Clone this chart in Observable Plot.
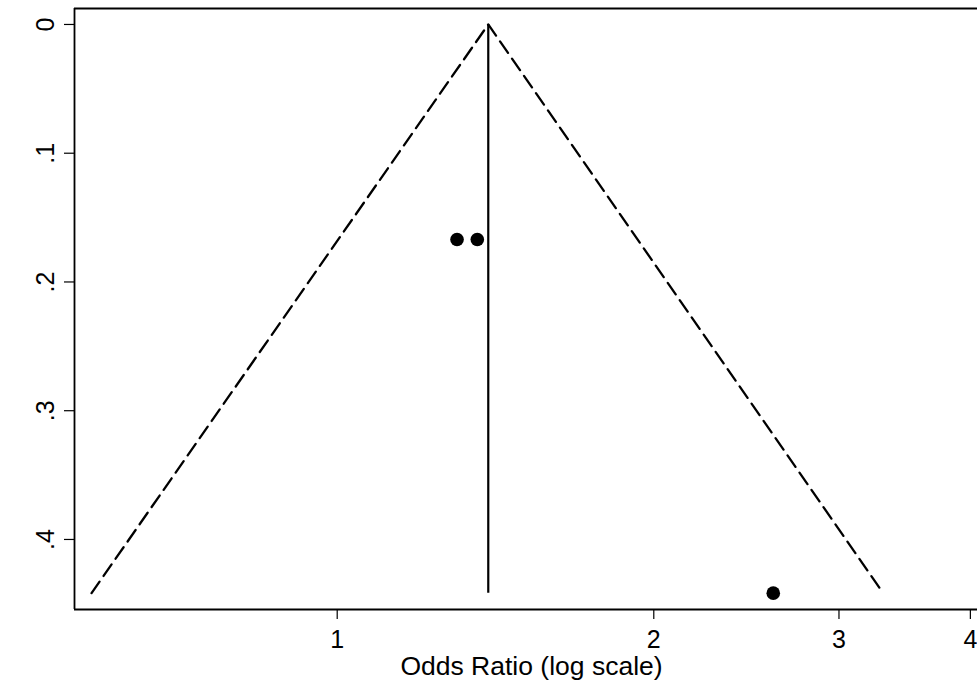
<!DOCTYPE html>
<html>
<head>
<meta charset="utf-8">
<script src="https://cdn.jsdelivr.net/npm/d3@7"></script>
<script src="https://cdn.jsdelivr.net/npm/@observablehq/plot@0.6"></script>
<style>
  html, body { margin: 0; padding: 0; background: #fff; overflow: hidden; }
  #chart { width: 977px; height: 684px; overflow: hidden; }
  #chart svg { display: block; max-width: none !important; }
</style>
</head>
<body>
<div id="chart"></div>
<script>
// Study estimates (odds ratio) and their standard errors of log OR
const studyOR = [1.30, 1.359, 2.598];
const studySE = [0.167, 0.167, 0.4417];
// Pooled estimate and funnel (pseudo 95% limits) vertices
const pooledOR = 1.392;
const pooledSE = [0, 0.4417];
const funnelOR = [0.584, 1.392, 3.305];
const funnelSE = [0.4417, 0, 0.4417];
// Axis ticks
const xTicks = [1, 2, 3, 4];
const yTicks = [0, 0.1, 0.2, 0.3, 0.4];
const yTickLabels = ["0", ".1", ".2", ".3", ".4"];
const xTitle = "Odds Ratio (log scale)";
// Scale domains
const xDomain = [0.5626, 4.162];
const yDomain = [-0.0124, 0.4544];

const points = studyOR.map((or, i) => ({or, se: studySE[i]}));
const funnel = funnelOR.map((or, i) => ({or, se: funnelSE[i]}));
const yLabels = yTicks.map((v, i) => ({v, label: yTickLabels[i]}));

const font = '"Liberation Sans", Arial, Helvetica, sans-serif';

const chart = Plot.plot({
  width: 988,
  height: 684,
  marginLeft: 74,
  marginTop: 8,
  marginBottom: 75,
  marginRight: 0,
  style: {fontFamily: font, background: "#fff", color: "#000"},
  x: {type: "log", domain: xDomain, axis: null},
  y: {domain: yDomain, reverse: true, axis: null},
  marks: [
    Plot.ruleY([yDomain[0]], {stroke: "#000", strokeWidth: 1.8}),
    Plot.ruleY([yDomain[1]], {stroke: "#000", strokeWidth: 1.8}),
    Plot.ruleX([xDomain[0]], {stroke: "#000", strokeWidth: 1.8}),
    Plot.line(funnel, {x: "or", y: "se", stroke: "#000", strokeWidth: 2.3, strokeDasharray: "14,7"}),
    Plot.ruleX([pooledOR], {y1: pooledSE[0], y2: pooledSE[1], stroke: "#000", strokeWidth: 2.2}),
    Plot.dot(points, {x: "or", y: "se", r: 6.8, fill: "#000", stroke: "none"}),
    Plot.axisX({ticks: xTicks, tickSize: 10, tickPadding: 11, tickFormat: d => String(d), fontSize: 25, label: null, stroke: "#000", strokeWidth: 1.2}),
    Plot.axisY({ticks: yTicks, tickSize: 10, tickFormat: () => "", label: null, stroke: "#000", strokeWidth: 1.2}),
    Plot.text(yLabels, {y: "v", text: "label", frameAnchor: "left", dx: -21, rotate: -90, lineAnchor: "bottom", textAnchor: "middle", fontSize: 25, fill: "#000"}),
    Plot.text([xTitle], {text: d => d, frameAnchor: "bottom", dy: 65, lineAnchor: "bottom", textAnchor: "middle", fontSize: 26.5, fill: "#000"})
  ]
});
document.getElementById("chart").appendChild(chart);
</script>
</body>
</html>
